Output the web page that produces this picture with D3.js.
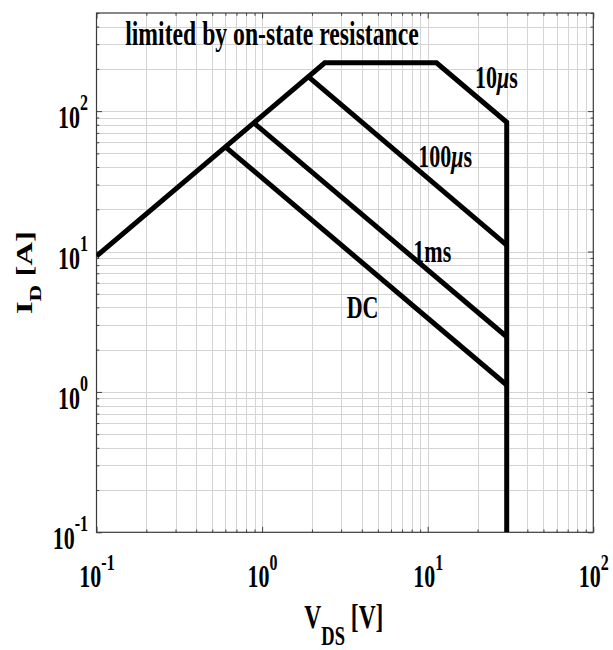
<!DOCTYPE html>
<html>
<head>
<meta charset="utf-8">
<script src="https://cdn.jsdelivr.net/npm/d3@7"></script>
<style>
  html, body { margin: 0; padding: 0; background: #fff; }
  svg { display: block; }
</style>
</head>
<body>
<svg id="chart" width="613" height="650"></svg>
<script>
// Safe operating area, V_DS in volts and I_D in amps
const envelopeV = [0.1, 2.39, 11.3, 30, 30];
const envelopeI = [9.27, 221, 221, 83.3, 0.1];
const pulse100usV = [1.9, 30];
const pulse100usI = [176, 11.1];
const pulse1msV = [0.89, 30];
const pulse1msI = [82.5, 2.47];
const dcV = [0.6, 30];
const dcI = [55.7, 1.12];
const curveNames = ["10", "100", "1ms", "DC"];
const xTickExponents = ["-1", "0", "1", "2"];
const yTickExponents = ["-1", "0", "1", "2"];
const titleText = "limited by on-state resistance";

const svg = d3.select("#chart");
const plotL = 96.5, plotR = 593.3, plotT = 13, plotB = 532.3;
const x = d3.scaleLog().domain([0.1, 100]).range([plotL, plotR]);
const y = d3.scaleLog().domain([0.1, 500]).range([plotB, plotT]);
const K = 1.45;              // tall, narrow glyph proportion
const FONT = "'Liberation Serif','Times New Roman',serif";

const isMajor = d => Math.abs(Math.log10(d) - Math.round(Math.log10(d))) < 1e-9;

// grid
const grid = svg.append("g").attr("stroke", "#d4d4d4").attr("stroke-width", 1);
grid.selectAll("line.gx").data(x.ticks().filter(d => d > 0.1 && d < 100))
  .join("line").attr("class", "gx")
  .attr("x1", d => Math.round(x(d)) + 0.5).attr("x2", d => Math.round(x(d)) + 0.5)
  .attr("y1", plotT).attr("y2", plotB);
grid.selectAll("line.gy").data(y.ticks().filter(d => d > 0.1 && d < 500))
  .join("line").attr("class", "gy")
  .attr("y1", d => Math.round(y(d)) + 0.5).attr("y2", d => Math.round(y(d)) + 0.5)
  .attr("x1", plotL).attr("x2", plotR);

// tick marks on all four sides, pointing inward
function tickAxis(axisFn, scale, values, size, transform) {
  const g = svg.append("g").attr("transform", transform)
    .call(axisFn(scale).tickValues(values).tickSize(-size).tickFormat(() => ""));
  g.select(".domain").remove();
  g.selectAll("line").attr("stroke", "#404040");
}
const xMaj = x.ticks().filter(isMajor), xMin = x.ticks().filter(d => !isMajor(d));
const yMaj = y.ticks().filter(isMajor), yMin = y.ticks().filter(d => !isMajor(d));
tickAxis(d3.axisBottom, x, xMaj, 5.5, `translate(0,${plotB})`);
tickAxis(d3.axisBottom, x, xMin, 2.8, `translate(0,${plotB})`);
tickAxis(d3.axisTop, x, xMaj, 5.5, `translate(0,${plotT})`);
tickAxis(d3.axisTop, x, xMin, 2.8, `translate(0,${plotT})`);
tickAxis(d3.axisLeft, y, yMaj, 5.5, `translate(${plotL},0)`);
tickAxis(d3.axisLeft, y, yMin, 2.8, `translate(${plotL},0)`);
tickAxis(d3.axisRight, y, yMaj, 5.5, `translate(${plotR},0)`);
tickAxis(d3.axisRight, y, yMin, 2.8, `translate(${plotR},0)`);

// frame
svg.append("rect").attr("x", plotL).attr("y", plotT)
  .attr("width", plotR - plotL).attr("height", plotB - plotT)
  .attr("fill", "none").attr("stroke", "#3a3a3a").attr("stroke-width", 1.2);

// curves
svg.append("clipPath").attr("id", "plot-clip").append("rect")
  .attr("x", plotL).attr("y", plotT).attr("width", plotR - plotL).attr("height", plotB - plotT);
const line = d3.line().x(d => x(d[0])).y(d => y(d[1]));
const curves = [
  d3.zip(envelopeV, envelopeI),
  d3.zip(pulse100usV, pulse100usI),
  d3.zip(pulse1msV, pulse1msI),
  d3.zip(dcV, dcI)
];
svg.append("g").attr("clip-path", "url(#plot-clip)")
  .selectAll("path").data(curves).join("path")
  .attr("d", line).attr("fill", "none").attr("stroke", "#000")
  .attr("stroke-width", 5).attr("stroke-linejoin", "miter").attr("stroke-linecap", "butt");

// text helper: parts = [{text, size, shift (page px, + = down), italic}]
function richText(px, py, anchor, parts, rotate) {
  const g = svg.append("g")
    .attr("transform", `translate(${px},${py}) scale(1,${K})` + (rotate ? " rotate(-90)" : ""));
  const t = g.append("text").attr("text-anchor", anchor)
    .attr("font-family", FONT).attr("font-weight", "bold").attr("fill", "#000");
  let prev = 0;
  parts.forEach(p => {
    const off = (p.shift || 0) / (rotate ? 1 : K);
    t.append("tspan").attr("dy", off - prev).attr("font-size", p.size)
      .attr("font-style", p.italic ? "italic" : null).text(p.text);
    prev = off;
  });
  return t;
}

// tick labels
yTickExponents.forEach(e => {
  richText(88, y(Math.pow(10, +e)) + 17, "end",
    [{ text: "10", size: 22 }, { text: e, size: 16, shift: -18 }]);
});
xTickExponents.forEach(e => {
  richText(x(Math.pow(10, +e)) + 0.5, 586.7, "middle",
    [{ text: "10", size: 22 }, { text: e, size: 16, shift: -17 }]);
});

// axis titles
richText((plotL + plotR) / 2 - 1, 627.5, "middle", [
  { text: "V", size: 23.5 },
  { text: "DS", size: 18.5, shift: 17.5 },
  { text: " [V]", size: 23.5, shift: 0 }
]);
richText(31.5, (plotT + plotB) / 2, "middle", [
  { text: "I", size: 22.5 },
  { text: "D", size: 16, shift: 9 },
  { text: " [A]", size: 22.5, shift: 0 }
], true);

// annotations
richText(x(0.149), y(295), "start", [{ text: titleText, size: 23.7 }]);
richText(x(19.3), y(146), "start", [
  { text: curveNames[0], size: 22 }, { text: "μ", size: 22, italic: true }, { text: "s", size: 22 }]);
richText(x(8.78), y(40.1), "start", [
  { text: curveNames[1], size: 22 }, { text: "μ", size: 22, italic: true }, { text: "s", size: 22 }]);
richText(x(8.19), y(8.39), "start", [{ text: curveNames[2], size: 22 }]);
richText(x(3.24), y(3.35), "start", [{ text: curveNames[3], size: 22 }]);
</script>
</body>
</html>
